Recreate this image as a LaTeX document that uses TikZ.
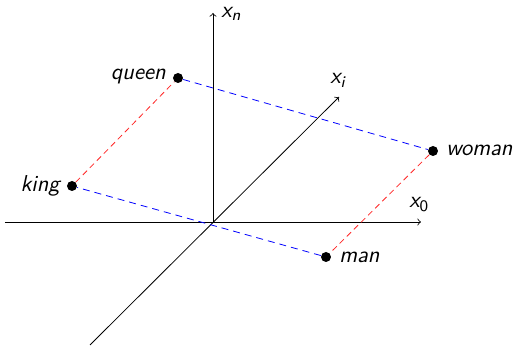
\documentclass[tikz,border=0pt]{standalone}
\usepackage{fontspec}
\tikzset{
  dot/.style={circle,fill=black,inner sep=0pt,minimum size=5pt},
  lbl/.style={font=\fontsize{11.5}{14}\selectfont\sffamily\itshape,inner sep=1pt},
  axis/.style={->,line width=0.4pt},
  reddash/.style={red!85!white,dash pattern=on 3pt off 2pt,line width=0.4pt},
  bluedash/.style={blue,dash pattern=on 3.5pt off 2.5pt,line width=0.4pt}
}
\begin{document}
\begin{tikzpicture}[x=0.5pt,y=-0.5pt]
\useasboundingbox (0,0) rectangle (516,346);
% axes
\coordinate (O) at (213,222);
\coordinate (xl) at (5,222);
\coordinate (xr) at (421,222);
\coordinate (xnt) at (213,13);
\coordinate (dl) at (90,345);
\coordinate (xit) at (339,97);
\draw[axis] (xl) -- (xr);
\draw[axis] (O) -- (xnt);
\draw[axis] (dl) -- (xit);
\node[lbl,anchor=south west] (lx0) at (407,214) {x\textsubscript{\upshape 0}};
\node[lbl,anchor=west] (lxn) at (219,14) {x\textsubscript{n}};
\node[lbl,anchor=south west] (lxi) at (328,90) {x\textsubscript{i}};
% points
\node[dot] (queen) at (178,78) {};
\node[dot] (king) at (72,186) {};
\node[dot] (woman) at (433,151) {};
\node[dot] (man) at (326,257) {};
\draw[reddash] (king) -- (queen);
\draw[bluedash] (queen) -- (woman);
\draw[reddash] (woman) -- (man);
\draw[bluedash] (man) -- (king);
\node[lbl,anchor=east] (tq) at (168,76) {queen};
\node[lbl,anchor=east] (tk) at (62,186) {king};
\node[lbl,anchor=west] (tw) at (444,150) {woman};
\node[lbl,anchor=west] (tm) at (337,257) {man};
\end{tikzpicture}
\end{document}
